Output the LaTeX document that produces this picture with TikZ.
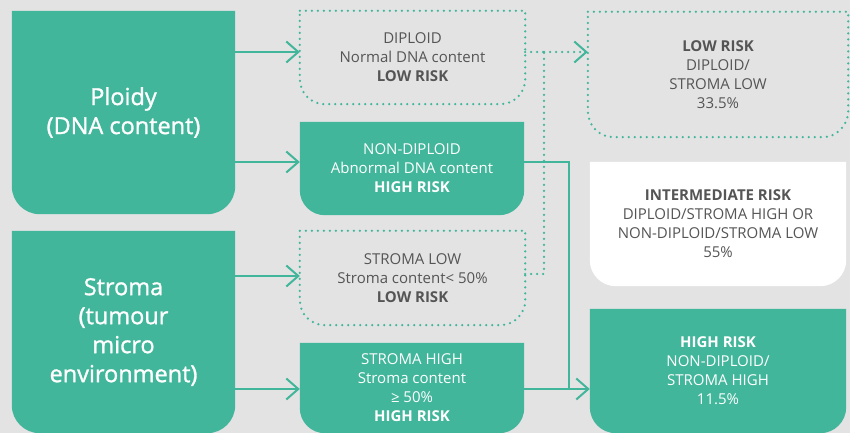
\documentclass[tikz,border=0pt]{standalone}
\usepackage{fontspec}
\setmainfont{Open Sans}
\newfontfamily\titlefont{Open Sans}[FakeBold=1.2]
\usetikzlibrary{arrows.meta,backgrounds}
\definecolor{teal1}{RGB}{65,182,155}
\definecolor{bgc}{RGB}{227,227,227}
\definecolor{txt}{RGB}{85,85,85}
\newcommand\botround[3]{\path[#1] (#2.north west) -- (#2.north east) -- ([yshift=#3]#2.south east) arc[start angle=0,end angle=-90,radius=#3] -- ([xshift=#3]#2.south west) arc[start angle=270,end angle=180,radius=#3] -- cycle;}
\tikzset{
 box/.style={inner sep=0pt, align=center, font=\fontsize{15}{19}\selectfont},
 gbox/.style={box, text=txt},
 wbox/.style={box, text=white},
 big/.style={inner sep=0pt, align=center, text=white, font=\titlefont\fontsize{23.5}{29}\selectfont},
 con/.style={draw=teal1, line width=2pt},
 dots/.style={draw=teal1, line width=2.5pt, line cap=round, dash pattern=on 0pt off 6pt},
 tip/.style={-{Straight Barb[length=12pt,width=21pt,line width=2pt]}},
 tfill/.style={fill=teal1},
 tdot/.style={dots},
}
\begin{document}
\begin{tikzpicture}[x=1pt,y=1pt]
\useasboundingbox (0,0) rectangle (850,433);
% nodes
\node[big, minimum width=223pt, minimum height=203pt] (ploidy) at (123.5,320.5) {Ploidy\\(DNA content)};
\node[big, minimum width=223pt, minimum height=202pt] (stroma) at (123.5,101) {Stroma\\(tumour\\micro\\environment)};
\node[gbox, minimum width=225pt, minimum height=93pt] (diploid) at (412.5,375.5) {DIPLOID\\Normal DNA content\\\textbf{LOW RISK}};
\node[wbox, minimum width=224pt, minimum height=93pt] (nondip) at (412,264.5) {NON-DIPLOID\\Abnormal DNA content\\\textbf{HIGH RISK}};
\node[gbox, minimum width=225pt, minimum height=94pt] (slow) at (412.5,155) {STROMA LOW\\Stroma content< 50\%\\\textbf{LOW RISK}};
\node[wbox, minimum width=224pt, minimum height=90pt] (shigh) at (412,45) {STROMA HIGH\\Stroma content\\≥ 50\%\\\textbf{HIGH RISK}};
\node[gbox, minimum width=260pt, minimum height=125pt] (lowrisk) at (718,358.5) {\textbf{LOW RISK}\\DIPLOID/\\STROMA LOW\\33.5\%};
\node[gbox, minimum width=256pt, minimum height=124pt] (inter) at (718,209) {\textbf{INTERMEDIATE RISK}\\DIPLOID/STROMA HIGH OR\\NON-DIPLOID/STROMA LOW\\55\%};
\node[wbox, minimum width=256pt, minimum height=124pt] (highrisk) at (718,62) {\textbf{HIGH RISK}\\NON-DIPLOID/\\STROMA HIGH\\11.5\%};
% shapes
\begin{scope}[on background layer]
\fill[bgc] (0,0) rectangle (850,433);
\botround{tfill}{ploidy}{28pt}
\botround{tfill}{stroma}{28pt}
\botround{tdot}{diploid}{25pt}
\botround{tfill}{nondip}{25pt}
\botround{tdot}{slow}{25pt}
\botround{tfill}{shigh}{25pt}
\botround{tdot}{lowrisk}{26pt}
\botround{fill=white}{inter}{26pt}
\botround{tfill}{highrisk}{26pt}
\end{scope}
% connectors
\coordinate (j1) at (544,381);
\coordinate (j2) at (569,44);
\draw[con,tip] (ploidy.east |- 0,381) -- (diploid.west |- 0,381);
\draw[con,tip] (ploidy.east |- 0,271) -- (nondip.west |- 0,271);
\draw[con,tip] (stroma.east |- 0,157) -- (slow.west |- 0,157);
\draw[con,tip] (stroma.east |- 0,44) -- (shigh.west |- 0,44);
\draw[dots] (diploid.east |- j1) -- (j1);
\draw[dots] (slow.east |- 0,159) -| (j1);
\draw[dots,tip] (j1) -- (lowrisk.west |- j1);
\draw[con] (nondip.east |- 0,271) -| (j2);
\draw[con] (shigh.east |- j2) -- (j2);
\draw[con,tip] (j2) -- (highrisk.west |- j2);
\end{tikzpicture}
\end{document}
